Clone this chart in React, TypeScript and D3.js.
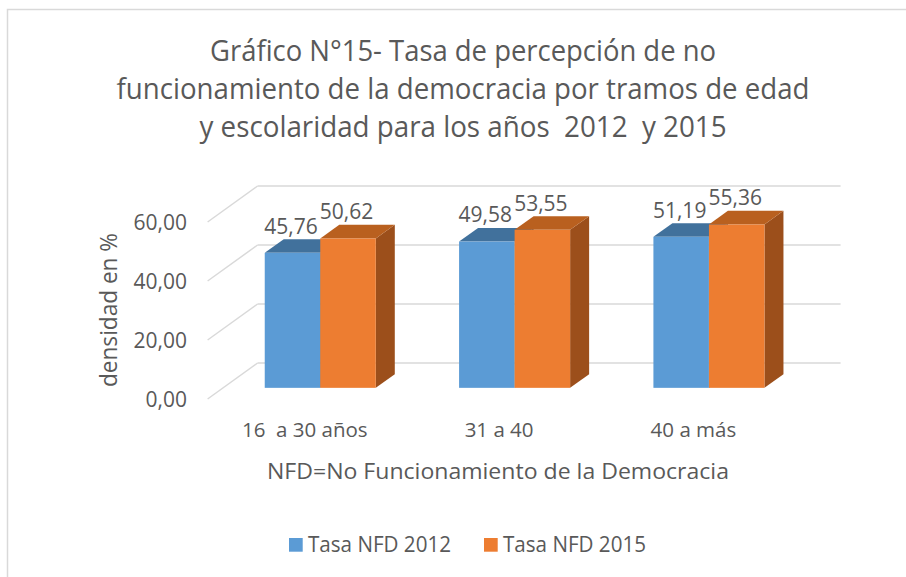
import React from "react";
import { scaleBand, scaleLinear, formatLocale } from "d3";

// chart data
const categories = ["16  a 30 años", "31 a 40", "40 a más"];
const series = ["Tasa NFD 2012", "Tasa NFD 2015"];
const values2012 = [45.76, 49.58, 51.19];
const values2015 = [50.62, 53.55, 55.36];
const yTicks = [0, 20, 40, 60];
const titleLines = [
  "Gráfico N°15- Tasa de percepción de no",
  "funcionamiento de la democracia por tramos de edad",
  "y escolaridad para los años  2012  y 2015",
];

const width = 906;
const height = 577;
const font = "'Open Sans', 'DejaVu Sans', sans-serif";
const textColor = "#595959";
const gridColor = "#D9D9D9";

const colors = {
  front: ["#5B9BD5", "#ED7D31"],
  top: ["#41719C", "#B9601F"],
  side: ["#3B6A94", "#9C4F1B"],
};

// 3d depth of the floor and where the bars sit in it
const DX = 50;
const DY = -36;
const Z0 = 0.31;
const Z1 = 0.69;

const fmt = formatLocale({
  decimal: ",",
  thousands: ".",
  grouping: [3],
  currency: ["", ""],
}).format(".2f");

const App = () => {
  const x0 = scaleBand().domain(categories).range([207.6, 790.6]);
  const x1 = scaleBand()
    .domain(series)
    .range([0, x0.bandwidth()])
    .paddingInner(0)
    .paddingOuter(0.75);
  const y = scaleLinear().domain([0, 60]).range([399, 222]);

  const proj = (x: number, v: number, z: number) =>
    `${x + z * DX},${y(v) + z * DY}`;

  const backLeft = x0.range()[0] + DX;
  const backRight = x0.range()[1] + DX;

  const rows = categories.map((c, i) => ({
    c,
    vals: [values2012[i], values2015[i]],
  }));

  return (
    <svg
      width={width}
      height={height}
      style={{ position: "absolute", left: 0, top: 0, fontFamily: font }}
    >
      <rect x={0} y={0} width={width} height={height} fill="white" />
      <rect
        x={7.5}
        y={9.5}
        width={1000}
        height={1000}
        fill="white"
        stroke={gridColor}
        strokeWidth={1.5}
      />

      {/* title */}
      {titleLines.map((t, i) => (
        <text
          key={i}
          x={463}
          y={60.7 + i * 38}
          textAnchor="middle"
          fontSize={29}
          fill={textColor}
          textLength={[506, 693, 527][i]}
          lengthAdjust="spacingAndGlyphs"
          style={{ whiteSpace: "pre" }}
        >
          {t}
        </text>
      ))}

      {/* walls: left side lines and back grid */}
      {yTicks.map((t) => (
        <g key={t} stroke={gridColor} strokeWidth={1.5} fill="none">
          <line
            x1={x0.range()[0]}
            y1={y(t)}
            x2={backLeft}
            y2={y(t) + DY}
          />
          <line x1={backLeft} y1={y(t) + DY} x2={backRight} y2={y(t) + DY} />
        </g>
      ))}

      {/* y tick labels */}
      {yTicks.map((t) => (
        <text
          key={t}
          x={187}
          y={y(t)}
          dy="0.36em"
          textAnchor="end"
          fontSize={21}
          fill={textColor}
        >
          {fmt(t)}
        </text>
      ))}

      <text
        transform="translate(116.5,310) rotate(-90)"
        textAnchor="middle"
        fontSize={23}
        fill={textColor}
        textLength={154}
        lengthAdjust="spacingAndGlyphs"
      >
        densidad en %
      </text>

      {/* bars */}
      {rows.map((r) => (
        <g key={r.c}>
          {series.map((s, j) => {
            const v = r.vals[j];
            const xa = (x0(r.c) as number) + (x1(s) as number);
            const xb = xa + x1.bandwidth();
            return (
              <g key={s}>
                <polygon
                  points={[proj(xb, 0, Z0), proj(xb, v, Z0), proj(xb, v, Z1), proj(xb, 0, Z1)].join(" ")}
                  fill={colors.side[j]}
                />
                <polygon
                  points={[proj(xa, v, Z0), proj(xb, v, Z0), proj(xb, v, Z1), proj(xa, v, Z1)].join(" ")}
                  fill={colors.top[j]}
                />
                <rect
                  x={xa + Z0 * DX}
                  y={y(v) + Z0 * DY}
                  width={x1.bandwidth()}
                  height={y(0) - y(v)}
                  fill={colors.front[j]}
                />
              </g>
            );
          })}
        </g>
      ))}

      {/* data labels */}
      {rows.map((r) =>
        series.map((s, j) => {
          const v = r.vals[j];
          const xa = (x0(r.c) as number) + (x1(s) as number) + Z0 * DX;
          return (
            <text
              key={r.c + s}
              x={xa + x1.bandwidth() / 2 - 1.5}
              y={y(v) + Z1 * DY - 5.5}
              textAnchor="middle"
              fontSize={21}
              fill={textColor}
            >
              {fmt(v)}
            </text>
          );
        })
      )}

      {/* category labels */}
      {categories.map((c) => (
        <text
          key={c}
          x={(x0(c) as number) + x0.bandwidth() / 2}
          y={437}
          textAnchor="middle"
          fontSize={20.5}
          fill={textColor}
          style={{ whiteSpace: "pre" }}
        >
          {c}
        </text>
      ))}

      <text
        x={498}
        y={478.5}
        textAnchor="middle"
        fontSize={21}
        fill={textColor}
        textLength={462}
        lengthAdjust="spacingAndGlyphs"
      >
        NFD=No Funcionamiento de la Democracia
      </text>

      {/* legend */}
      {series.map((s, j) => (
        <g key={s} transform={`translate(${[289, 484][j]},538)`}>
          <rect width={13.7} height={13.7} fill={colors.front[j]} />
          <text
            x={19}
            y={13.5}
            fontSize={21}
            fill={textColor}
            textLength={143}
            lengthAdjust="spacingAndGlyphs"
          >
            {s}
          </text>
        </g>
      ))}
    </svg>
  );
};

export default App;
